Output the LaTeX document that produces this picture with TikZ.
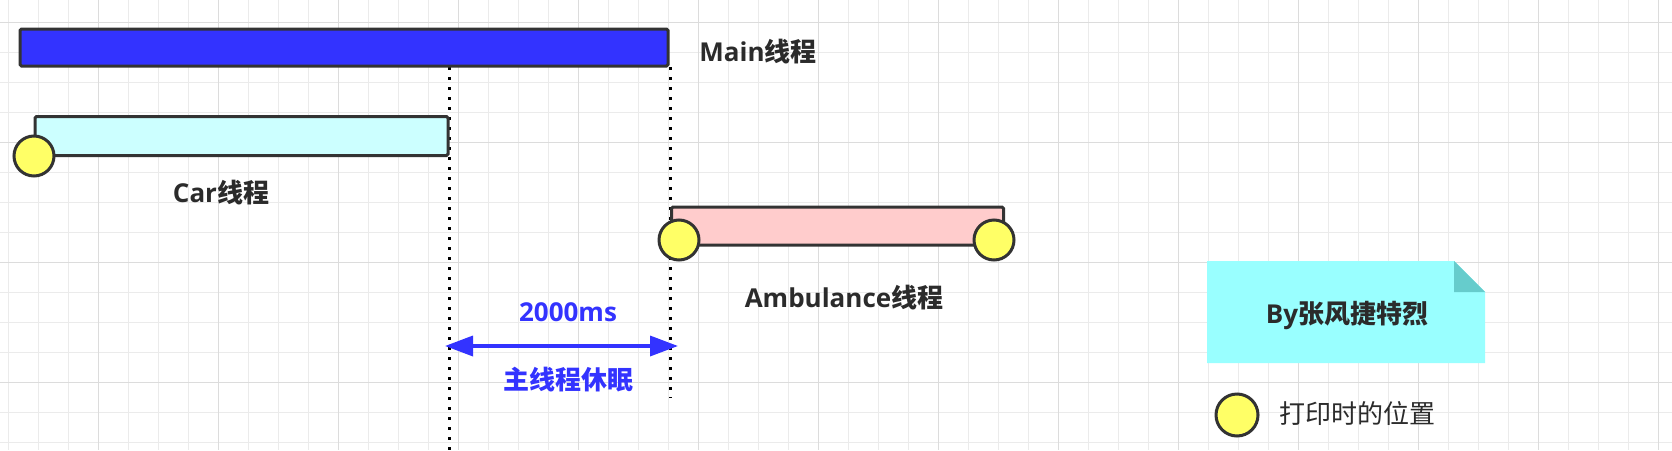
\documentclass[tikz,border=0pt]{standalone}
\usepackage{fontspec}
\newfontfamily\cjk{Noto Sans CJK SC}
\newfontfamily\lat{Open Sans}
\usetikzlibrary{arrows.meta}
\definecolor{barblue}{HTML}{3333FF}
\definecolor{carfill}{HTML}{CCFFFF}
\definecolor{ambfill}{HTML}{FFCCCC}
\definecolor{dotyellow}{HTML}{FFFF66}
\definecolor{edge}{HTML}{333333}
\definecolor{txt}{HTML}{2B2B2B}
\definecolor{notefill}{HTML}{99FFFF}
\definecolor{notefold}{HTML}{66CCCC}
\definecolor{gridminor}{HTML}{EBEBEB}
\definecolor{gridmajor}{HTML}{DCDCDC}
\tikzset{
  threadbar/.style={draw=edge, line width=3pt, rounded corners=1.5pt, inner sep=0pt},
  printdot/.style={circle, draw=edge, line width=3pt, fill=dotyellow, minimum size=40pt, inner sep=0pt},
  lbl/.style={inner sep=0pt, text=txt, font=\fontsize{26}{30}\selectfont\bfseries},
  bluelbl/.style={inner sep=0pt, text=barblue, font=\fontsize{26}{30}\selectfont\bfseries},
  dotline/.style={draw=black, line width=3pt, dash pattern=on 3pt off 7pt},
  sleeparrow/.style={draw=barblue, line width=3.5pt, {Triangle[length=28pt,width=20pt]}-{Triangle[length=28pt,width=20pt]}}
}
\begin{document}
\begin{tikzpicture}[x=1pt,y=-1pt]
\useasboundingbox (0,0) rectangle (1672,450);
\fill[white] (0,0) rectangle (1672,450);
% grid
\foreach \i in {0,...,55} {
  \draw[gridminor, line width=1pt] ({8.3+30*\i},0) -- ({8.3+30*\i},450);
}
\foreach \i in {0,...,14} {
  \draw[gridminor, line width=1pt] (0,{22.7+30*\i}) -- (1672,{22.7+30*\i});
}
\foreach \i in {0,...,13} {
  \draw[gridmajor, line width=1.2pt] ({98.3+120*\i},0) -- ({98.3+120*\i},450);
}
\foreach \i in {0,...,3} {
  \draw[gridmajor, line width=1.2pt] (0,{22.7+120*\i}) -- (1672,{22.7+120*\i});
}
% dotted guide lines
\coordinate (d1top) at (449.5,67);
\coordinate (d1bot) at (449.5,450);
\coordinate (d2top) at (670.5,67);
\coordinate (d2bot) at (670.5,398);
\draw[dotline] (d1top) -- (d1bot);
\draw[dotline] (d2top) -- (d2bot);
% bars
\node[threadbar, fill=barblue, minimum width=648pt, minimum height=37pt] (mainbar) at (344,47.5) {};
\node[threadbar, fill=carfill, minimum width=413pt, minimum height=39pt] (carbar) at (241.5,136) {};
\node[threadbar, fill=ambfill, minimum width=332pt, minimum height=38pt] (ambbar) at (837.5,226) {};
% print dots
\node[printdot] (cardot) at (34,156) {};
\node[printdot] (ambdot1) at (679,240) {};
\node[printdot] (ambdot2) at (994,240) {};
% labels
\node[lbl] (mainlbl) at (758,52) {{\lat Main}{\cjk 线程}};
\node[lbl] (carlbl) at (221,193) {{\lat Car}{\cjk 线程}};
\node[lbl] (amblbl) at (844,298) {{\lat Ambulance}{\cjk 线程}};
% sleep arrow
\coordinate (sleepL) at (445,346);
\coordinate (sleepR) at (678,346);
\draw[sleeparrow] (sleepL) -- (sleepR);
\node[bluelbl] (msl) at (568,312) {\lat 2000ms};
\node[bluelbl] (sleeplbl) at (568,380) {\cjk 主线程休眠};
% note
\fill[notefill] (1207,261) -- (1454,261) -- (1485,292) -- (1485,363) -- (1207,363) -- cycle;
\fill[notefold] (1454,261) -- (1485,292) -- (1454,292) -- cycle;
\node[lbl] (note) at (1347,315) {{\lat By}{\cjk 张风捷特烈}};
% legend
\node[printdot, minimum size=42pt] (legdot) at (1237,415) {};
\node[lbl, font=\fontsize{26}{30}\selectfont] (leglbl) at (1357,413) {\cjk 打印时的位置};
\end{tikzpicture}
\end{document}
